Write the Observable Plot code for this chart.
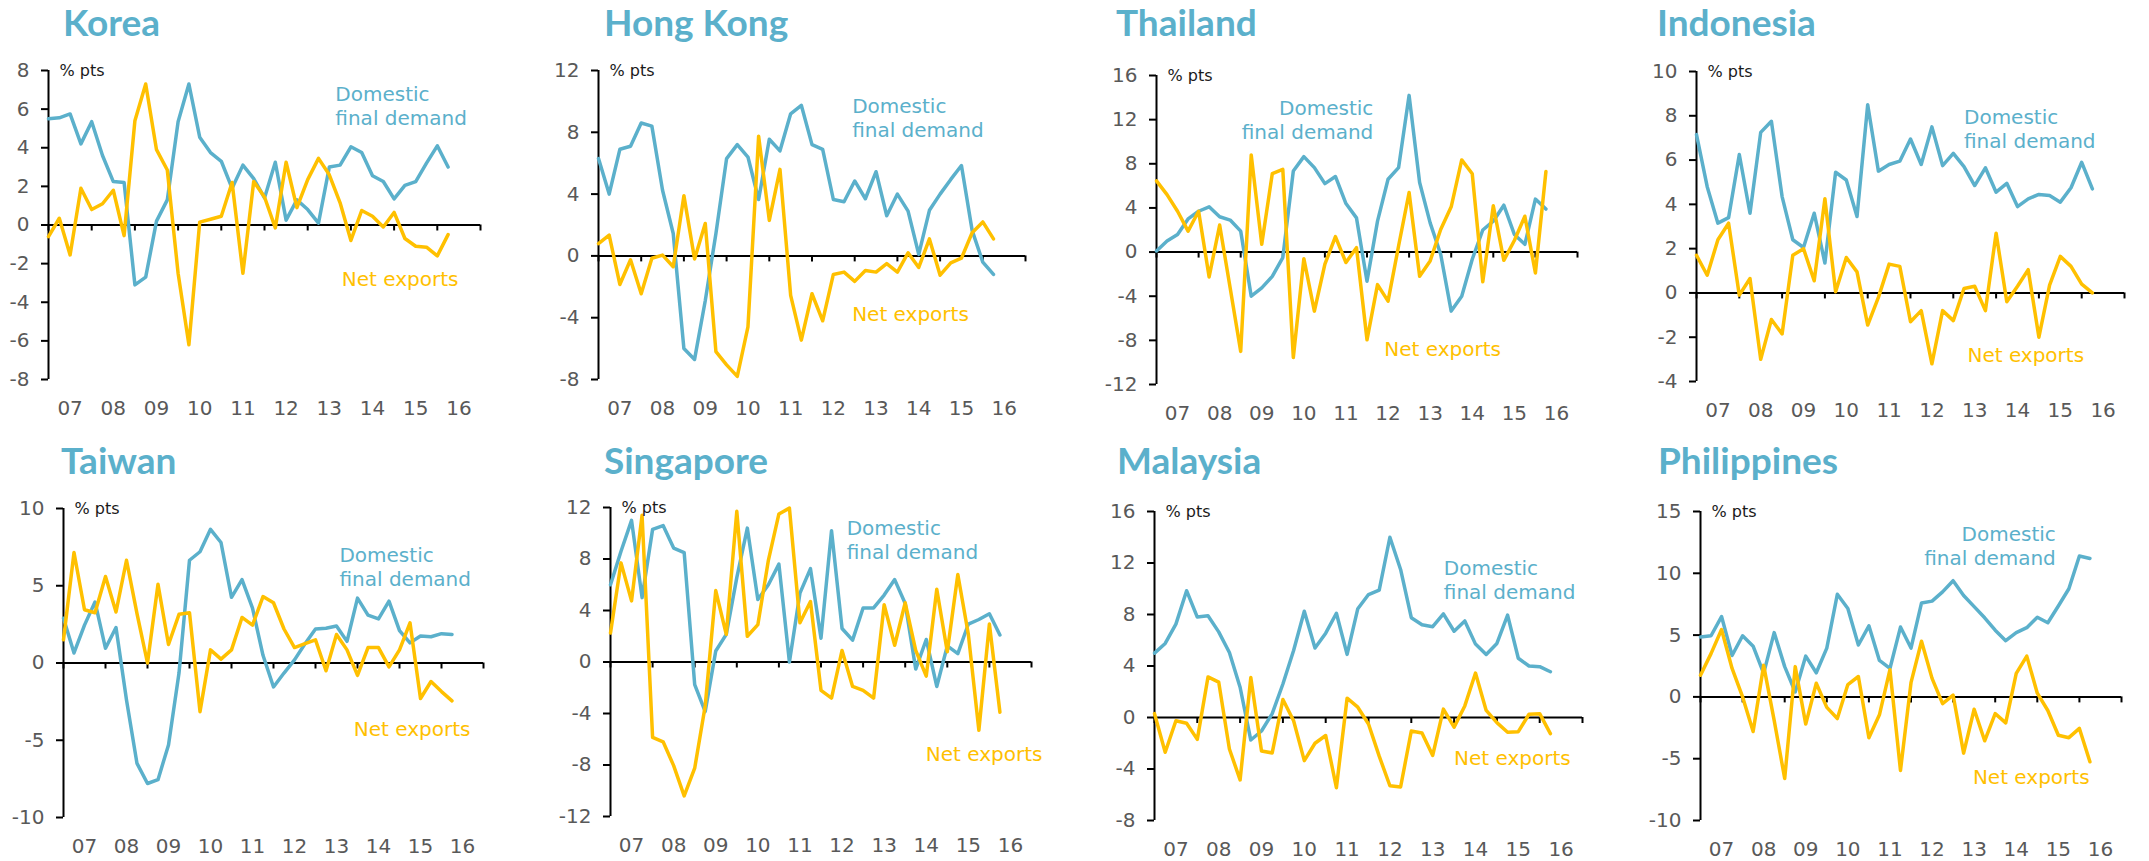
<!DOCTYPE html>
<html><head><meta charset="utf-8">
<script src="https://cdn.jsdelivr.net/npm/d3@7"></script>
<script src="https://cdn.jsdelivr.net/npm/@observablehq/plot@0.6"></script>
<style>
body{margin:0;background:#fff;}
#chart{position:relative;width:2149px;height:861px;overflow:hidden;font-family:"DejaVu Sans",sans-serif;background:#fff;}
.title{position:absolute;font-weight:700;font-size:37px;line-height:1;color:#5BB0CB;white-space:nowrap;font-family:Lato,sans-serif;}
.panel{position:absolute;}
</style></head><body><div id="chart"></div>
<script>
const BLUE = "#5BB0CB", GOLD = "#FFC000";

// Quarterly contributions, 2007Q1 – 2016Q2 (% pts)
const koreaDomestic = [5.5,5.55,5.75,4.2,5.35,3.6,2.25,2.2,-3.1,-2.7,0.2,1.3,5.35,7.3,4.55,3.75,3.3,1.9,3.1,2.4,1.4,3.25,0.25,1.3,0.8,0.1,3.0,3.1,4.05,3.75,2.55,2.25,1.35,2.05,2.25,3.2,4.1,3.0];
const koreaNetExports = [-0.6,0.35,-1.55,1.9,0.8,1.1,1.8,-0.55,5.4,7.3,3.9,2.85,-2.5,-6.2,0.15,0.3,0.45,2.2,-2.5,2.25,1.45,-0.15,3.25,0.9,2.35,3.45,2.6,1.15,-0.8,0.75,0.45,-0.1,0.65,-0.7,-1.1,-1.15,-1.6,-0.5];
const hongKongDomestic = [6.3,4.0,6.9,7.1,8.6,8.4,4.25,1.45,-6.0,-6.7,-2.9,1.45,6.3,7.2,6.4,3.65,7.55,6.8,9.2,9.75,7.2,6.9,3.65,3.5,4.85,3.7,5.45,2.6,4.0,2.9,0.1,2.95,4.0,4.95,5.85,1.65,-0.4,-1.2];
const hongKongNetExports = [0.8,1.35,-1.85,-0.25,-2.45,-0.15,0.05,-0.7,3.9,-0.2,2.1,-6.2,-7.05,-7.8,-4.6,7.75,2.3,5.6,-2.55,-5.45,-2.45,-4.2,-1.2,-1.05,-1.65,-0.95,-1.05,-0.5,-1.05,0.2,-0.75,1.1,-1.25,-0.45,-0.15,1.5,2.2,1.1];
const thailandDomestic = [0.1,1.0,1.6,3.0,3.7,4.1,3.2,2.9,1.9,-4.0,-3.25,-2.2,-0.5,7.35,8.65,7.65,6.2,6.85,4.4,3.1,-2.65,2.8,6.6,7.65,14.2,6.3,2.65,-0.2,-5.35,-4.0,-0.65,2.0,2.8,4.25,1.6,0.7,4.8,3.9];
const thailandNetExports = [6.45,5.2,3.7,1.9,3.7,-2.25,2.45,-3.25,-9.0,8.8,0.7,7.1,7.5,-9.55,-0.6,-5.35,-1.1,1.4,-0.95,0.4,-7.95,-2.95,-4.45,0.55,5.4,-2.2,-0.8,2.05,4.1,8.35,7.1,-2.7,4.2,-0.75,1.05,3.25,-1.9,7.3];
const indonesiaDomestic = [7.15,4.8,3.15,3.4,6.25,3.6,7.25,7.75,4.35,2.4,2.05,3.6,1.35,5.45,5.1,3.45,8.5,5.5,5.8,5.95,6.95,5.8,7.5,5.75,6.3,5.7,4.85,5.65,4.55,4.95,3.9,4.25,4.45,4.4,4.1,4.75,5.9,4.7];
const indonesiaNetExports = [1.7,0.8,2.4,3.15,-0.1,0.65,-3.0,-1.2,-1.85,1.7,2.0,0.55,4.25,0.05,1.6,0.95,-1.45,-0.2,1.3,1.2,-1.3,-0.8,-3.2,-0.8,-1.25,0.2,0.3,-0.8,2.7,-0.4,0.3,1.05,-2.0,0.35,1.65,1.2,0.4,0.0];
const taiwanDomestic = [2.9,0.65,2.45,3.95,0.95,2.3,-2.4,-6.5,-7.8,-7.55,-5.3,-0.65,6.65,7.2,8.65,7.8,4.25,5.4,3.55,0.5,-1.55,-0.65,0.2,1.25,2.2,2.25,2.4,1.4,4.2,3.1,2.85,4.0,2.1,1.3,1.75,1.7,1.9,1.85];
const taiwanNetExports = [1.5,7.15,3.45,3.25,5.6,3.3,6.65,3.2,0.0,5.1,1.2,3.15,3.25,-3.15,0.85,0.25,0.85,2.95,2.45,4.3,3.9,2.2,1.0,1.25,1.5,-0.5,1.85,0.85,-0.8,1.0,1.0,-0.25,0.85,2.6,-2.3,-1.2,-1.85,-2.45];
const singaporeDomestic = [6.0,8.6,11.0,5.0,10.3,10.6,8.85,8.5,-1.75,-3.85,0.85,2.15,6.55,10.4,4.85,6.0,7.6,0.0,5.35,7.25,1.85,10.2,2.6,1.7,4.2,4.2,5.2,6.4,4.55,-0.55,1.75,-1.9,1.25,0.65,2.95,3.3,3.75,2.1];
const singaporeNetExports = [2.25,7.7,4.75,11.4,-5.85,-6.2,-8.05,-10.4,-8.25,-3.4,5.55,2.15,11.7,2.0,2.9,7.9,11.5,11.95,3.05,4.7,-2.2,-2.8,0.9,-1.9,-2.2,-2.8,4.45,1.3,4.6,0.9,-1.1,5.65,0.8,6.8,2.15,-5.3,2.95,-3.9];
const malaysiaDomestic = [5.0,5.75,7.25,9.85,7.8,7.9,6.65,5.05,2.35,-1.75,-1.05,0.3,2.6,5.2,8.25,5.4,6.55,8.1,4.9,8.45,9.55,9.9,14.0,11.5,7.75,7.2,7.05,8.05,6.7,7.5,5.7,4.9,5.75,7.95,4.6,4.0,3.95,3.55];
const malaysiaNetExports = [0.3,-2.7,-0.25,-0.45,-1.7,3.15,2.75,-2.45,-4.85,3.1,-2.6,-2.75,1.4,-0.25,-3.35,-2.0,-1.4,-5.45,1.5,0.8,-0.5,-3.0,-5.3,-5.4,-1.05,-1.2,-2.95,0.65,-0.75,0.9,3.45,0.55,-0.4,-1.15,-1.1,0.25,0.3,-1.25];
const philippinesDomestic = [4.85,4.95,6.5,3.35,4.95,4.1,1.9,5.2,2.45,0.4,3.3,1.95,3.95,8.3,7.15,4.2,5.75,2.95,2.3,5.65,3.95,7.6,7.75,8.5,9.4,8.2,7.3,6.4,5.4,4.55,5.2,5.6,6.45,6.0,7.35,8.75,11.4,11.2];
const philippinesNetExports = [1.75,3.5,5.45,2.3,0.0,-2.8,2.55,-1.9,-6.6,2.45,-2.2,1.1,-0.85,-1.75,1.0,1.65,-3.3,-1.45,2.2,-5.95,1.15,4.5,1.5,-0.55,0.15,-4.55,-1.0,-3.55,-1.35,-2.1,1.9,3.3,0.3,-1.1,-3.1,-3.3,-2.55,-5.25];

// Tick labels
const yearLabels = ["07","08","09","10","11","12","13","14","15","16"];
const yearBoundaries = [2007,2008,2009,2010,2011,2012,2013,2014,2015,2016,2017];
const koreaTicks = [-8,-6,-4,-2,0,2,4,6,8];
const hongKongTicks = [-8,-4,0,4,8,12];
const thailandTicks = [-12,-8,-4,0,4,8,12,16];
const indonesiaTicks = [-4,-2,0,2,4,6,8,10];
const taiwanTicks = [-10,-5,0,5,10];
const singaporeTicks = [-12,-8,-4,0,4,8,12];
const malaysiaTicks = [-8,-4,0,4,8,12,16];
const philippinesTicks = [-10,-5,0,5,10,15];

const domesticLabel = "Domestic\nfinal demand";
const netLabel = "Net exports";
const unitLabel = "% pts";

const quarterX = koreaDomestic.map((_, i) => 2007 + i / 4);
const yearMids = yearLabels.map((_, i) => yearBoundaries[i] + 0.5);

// layout (pixel geometry of each panel's frame, label anchors in data coordinates)
const panels = [
  {name:"Korea", dom:koreaDomestic, net:koreaNetExports, ticks:koreaTicks, left:48, right:480, top:70, bottom:379, tx:63, ty:3,
   dl:{x:2013.64,y:6.2,a:"start"}, nl:{x:2013.79,y:-2.84,a:"start"}},
  {name:"Hong Kong", dom:hongKongDomestic, net:hongKongNetExports, ticks:hongKongTicks, left:598, right:1025, top:70, bottom:379, tx:604, ty:3,
   dl:{x:2012.94,y:8.94,a:"start"}, nl:{x:2012.94,y:-3.79,a:"start"}},
  {name:"Thailand", dom:thailandDomestic, net:thailandNetExports, ticks:thailandTicks, left:1156, right:1577, top:75, bottom:384, tx:1116, ty:3,
   dl:{x:2012.15,y:12.0,a:"end"}, nl:{x:2012.41,y:-8.85,a:"start"}},
  {name:"Indonesia", dom:indonesiaDomestic, net:indonesiaNetExports, ticks:indonesiaTicks, left:1696, right:2124, top:71, bottom:381, tx:1657, ty:3,
   dl:{x:2013.25,y:7.42,a:"start"}, nl:{x:2013.33,y:-2.82,a:"start"}},
  {name:"Taiwan", dom:taiwanDomestic, net:taiwanNetExports, ticks:taiwanTicks, left:63, right:483, top:508, bottom:817, tx:61, ty:441,
   dl:{x:2013.57,y:6.24,a:"start"}, nl:{x:2013.91,y:-4.29,a:"start"}},
  {name:"Singapore", dom:singaporeDomestic, net:singaporeNetExports, ticks:singaporeTicks, left:610, right:1031, top:507, bottom:816, tx:604, ty:441,
   dl:{x:2012.61,y:9.51,a:"start"}, nl:{x:2014.49,y:-7.21,a:"start"}},
  {name:"Malaysia", dom:malaysiaDomestic, net:malaysiaNetExports, ticks:malaysiaTicks, left:1154, right:1582, top:511, bottom:820, tx:1117, ty:441,
   dl:{x:2013.76,y:10.75,a:"start"}, nl:{x:2013.997,y:-3.16,a:"start"}},
  {name:"Philippines", dom:philippinesDomestic, net:philippinesNetExports, ticks:philippinesTicks, left:1700, right:2121, top:511, bottom:820, tx:1658, ty:441,
   dl:{x:2015.44,y:12.26,a:"end"}, nl:{x:2013.47,y:-6.52,a:"start"}}
];

const chart = document.getElementById("chart");
const ML = 60, MT = 20, MR = 25, MB = 45;
const FONT = "'DejaVu Sans', sans-serif";
const TICK_FILL = "#595959";

for (const p of panels) {
  const t = document.createElement("div");
  t.className = "title";
  t.textContent = p.name;
  t.style.left = p.tx + "px";
  t.style.top = p.ty + "px";
  chart.appendChild(t);

  const domRows = p.dom.map((v, i) => ({x: quarterX[i], v}));
  const netRows = p.net.map((v, i) => ({x: quarterX[i], v}));
  const w = ML + (p.right - p.left) + MR;
  const h = MT + (p.bottom - p.top) + MB;
  const x0 = yearBoundaries[0];

  const svg = Plot.plot({
    width: w, height: h,
    marginLeft: ML, marginTop: MT, marginRight: MR, marginBottom: MB,
    x: {domain: [x0, yearBoundaries[yearBoundaries.length - 1]], axis: null},
    y: {domain: [p.ticks[0], p.ticks[p.ticks.length - 1]], axis: null},
    style: {fontFamily: FONT, fontSize: "20px", background: "transparent", overflow: "visible"},
    marks: [
      // y axis: ticks + labels
      Plot.ruleY(p.ticks, {y: d => d, x1: x0, x2: x0, insetLeft: -7, stroke: "black", strokeWidth: 2}),
      Plot.text(p.ticks, {y: d => d, text: d => String(d), frameAnchor: "left", dx: -19, textAnchor: "end", fontSize: 20, fill: TICK_FILL}),
      // x labels at mid-year
      Plot.text(yearLabels, {x: (d, i) => yearMids[i], text: d => d, frameAnchor: "bottom", dy: 29, lineAnchor: "middle", fontSize: 20, fill: TICK_FILL}),
      Plot.ruleX([x0], {stroke: "black", strokeWidth: 2}),
      Plot.ruleY([0], {stroke: "black", strokeWidth: 2}),
      Plot.ruleX(yearBoundaries, {x: d => d, y1: 0, y2: 0, insetBottom: -6, stroke: "black", strokeWidth: 2}),
      Plot.line(domRows, {x: "x", y: "v", stroke: BLUE, strokeWidth: 3.5}),
      Plot.line(netRows, {x: "x", y: "v", stroke: GOLD, strokeWidth: 3.5}),
      Plot.text([unitLabel], {frameAnchor: "top-left", text: d => d, dx: 11, textAnchor: "start", lineAnchor: "middle", fontSize: 16, fill: "#1a1a1a"}),
      Plot.text([{...p.dl, t: domesticLabel}], {x: "x", y: "y", text: "t", textAnchor: p.dl.a, lineAnchor: "middle", lineHeight: 1.2, fontSize: 20, fill: BLUE}),
      Plot.text([{...p.nl, t: netLabel}], {x: "x", y: "y", text: "t", textAnchor: p.nl.a, lineAnchor: "middle", fontSize: 20, fill: GOLD})
    ]
  });
  svg.classList.add("panel");
  svg.style.left = (p.left - ML) + "px";
  svg.style.top = (p.top - MT) + "px";
  chart.appendChild(svg);
}
</script>
</body></html>
